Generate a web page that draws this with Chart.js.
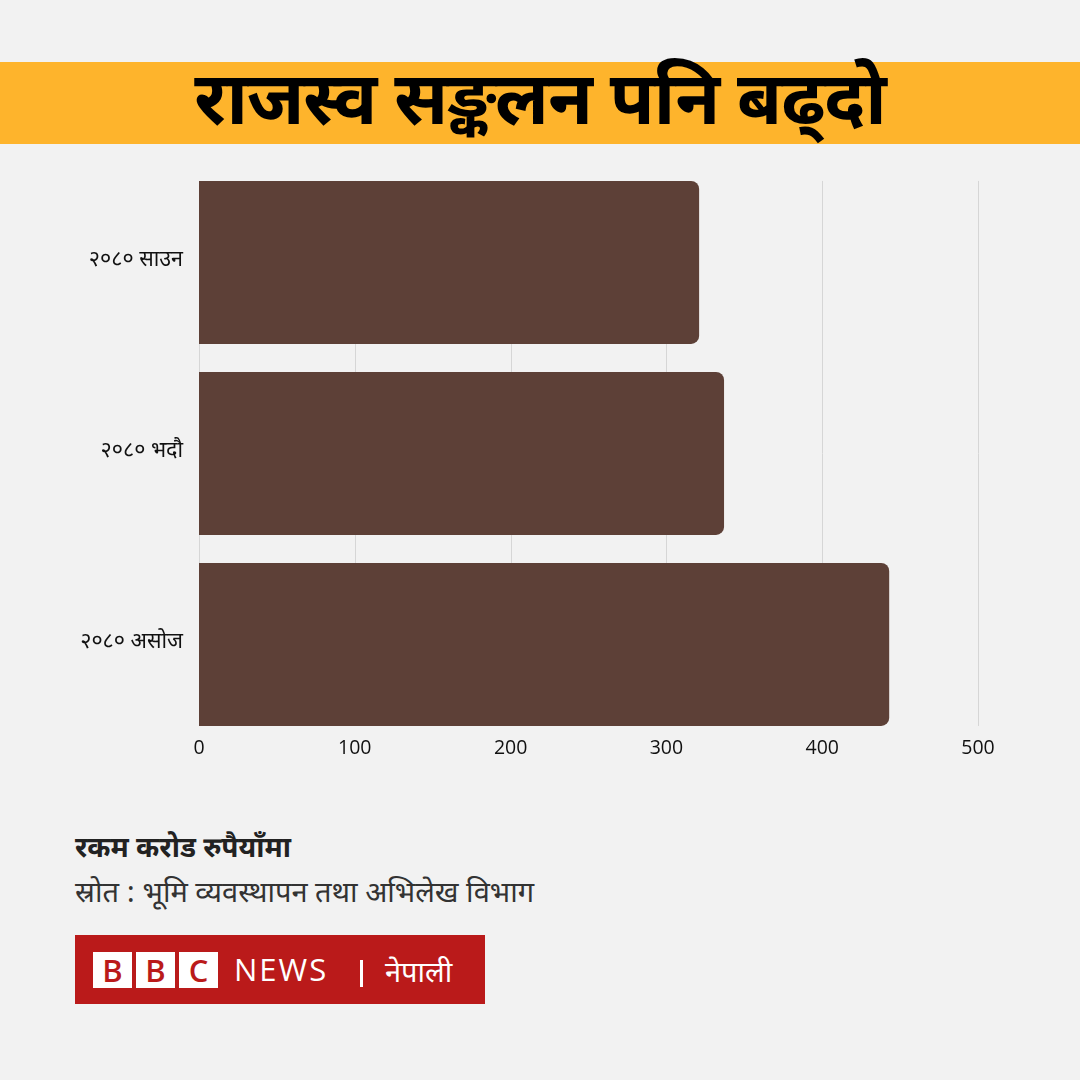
<!DOCTYPE html>
<html>
<head>
<meta charset="utf-8">
<script src="https://cdn.jsdelivr.net/npm/chart.js@4.4.1/dist/chart.umd.min.js"></script>
<style>
  body { margin: 0; width: 1080px; height: 1080px; background: #f2f2f2; position: relative; overflow: hidden;
         font-family: "Noto Sans Devanagari", "Noto Sans", sans-serif; color: #222; }
  .title { position: absolute; left: 0; top: 62px; width: 1080px; height: 82px; background: #feb42c;
           display: flex; align-items: center; justify-content: center; }
  .title h1 { margin: 0; font-size: 73px; font-weight: 700; color: #000; line-height: 1; letter-spacing: -1px; position: relative; top: 3px; }
  .chart-box { position: absolute; left: 0; top: 146px; width: 1080px; height: 644px; }
  .unit { position: absolute; left: 75px; top: 830px; font-size: 28px; font-weight: 700; color: #222; line-height: 40px; }
  .source { position: absolute; left: 75px; top: 875px; font-size: 29px; color: #333; line-height: 40px; }
  .logo { position: absolute; left: 75px; top: 935px; width: 410px; height: 69px; background: #ba1a1a; }
  .logo .sq { position: absolute; top: 17px; width: 39px; height: 36px; background: #fff; color: #ba1a1a;
              font: 600 31px "Open Sans", sans-serif; text-align: center; line-height: 37px; }
  .logo .news { position: absolute; left: 159px; top: 14px; color: #fff; font: 400 31px "Open Sans", sans-serif;
                letter-spacing: 2px; line-height: 40px; }
  .logo .bar { position: absolute; left: 285px; top: 25px; width: 3px; height: 27px; background: #fff; }
  .logo .np { position: absolute; left: 310px; top: 20px; color: #fff; font-size: 29px; line-height: 40px; }
</style>
</head>
<body>
<div class="title"><h1>राजस्व सङ्कलन पनि बढ्दो</h1></div>
<div class="chart-box"><canvas id="chart"></canvas></div>
<div class="unit">रकम करोड रुपैयाँमा</div>
<div class="source">स्रोत : भूमि व्यवस्थापन तथा अभिलेख विभाग</div>
<div class="logo">
  <div class="sq" style="left:18px">B</div>
  <div class="sq" style="left:61px">B</div>
  <div class="sq" style="left:104px">C</div>
  <div class="news">NEWS</div>
  <div class="bar"></div>
  <div class="np">नेपाली</div>
</div>
<script>
const months = ["२०८० साउन", "२०८० भदौ", "२०८० असोज"];
const revenue = [321, 337, 443];
const xTicks = [0, 100, 200, 300, 400, 500];

// grid lines only between the top of the first bar and the bottom of the last one
const barGrid = {
  id: "barGrid",
  beforeDatasetsDraw(chart) {
    const x = chart.scales.x;
    const bars = chart.getDatasetMeta(0).data;
    const top = bars[0].y - bars[0].height / 2;
    const bottom = bars[bars.length - 1].y + bars[bars.length - 1].height / 2;
    const ctx = chart.ctx;
    ctx.save();
    ctx.strokeStyle = "#d6d6d6";
    ctx.lineWidth = 1;
    xTicks.forEach(v => {
      const px = Math.round(x.getPixelForValue(v)) + 0.5;
      ctx.beginPath();
      ctx.moveTo(px, top);
      ctx.lineTo(px, bottom);
      ctx.stroke();
    });
    ctx.restore();
  }
};

new Chart(document.getElementById("chart"), {
  type: "bar",
  data: {
    labels: months,
    datasets: [{
      data: revenue,
      backgroundColor: "#5d4037",
      borderRadius: 8,
      barPercentage: 0.853,
      categoryPercentage: 1
    }]
  },
  plugins: [barGrid],
  options: {
    indexAxis: "y",
    responsive: true,
    maintainAspectRatio: false,
    animation: false,
    layout: { padding: { top: 10, right: 102, left: 0, bottom: 0 } },
    plugins: { legend: { display: false }, tooltip: { enabled: false } },
    scales: {
      x: {
        min: 0, max: 500,
        afterBuildTicks: s => { s.ticks = xTicks.map(v => ({ value: v })); },
        afterFit: s => { s.height = 50; },
        grid: { display: false },
        border: { display: false },
        ticks: { color: "#111", padding: -11, font: { family: "Open Sans", size: 19.5 } }
      },
      y: {
        afterFit: s => { s.width = 199; },
        grid: { display: false },
        border: { display: false },
        ticks: { color: "#111", padding: 8, font: { family: "Noto Sans Devanagari, Noto Sans, sans-serif", size: 21.5 } }
      }
    }
  }
});
</script>
</body>
</html>
